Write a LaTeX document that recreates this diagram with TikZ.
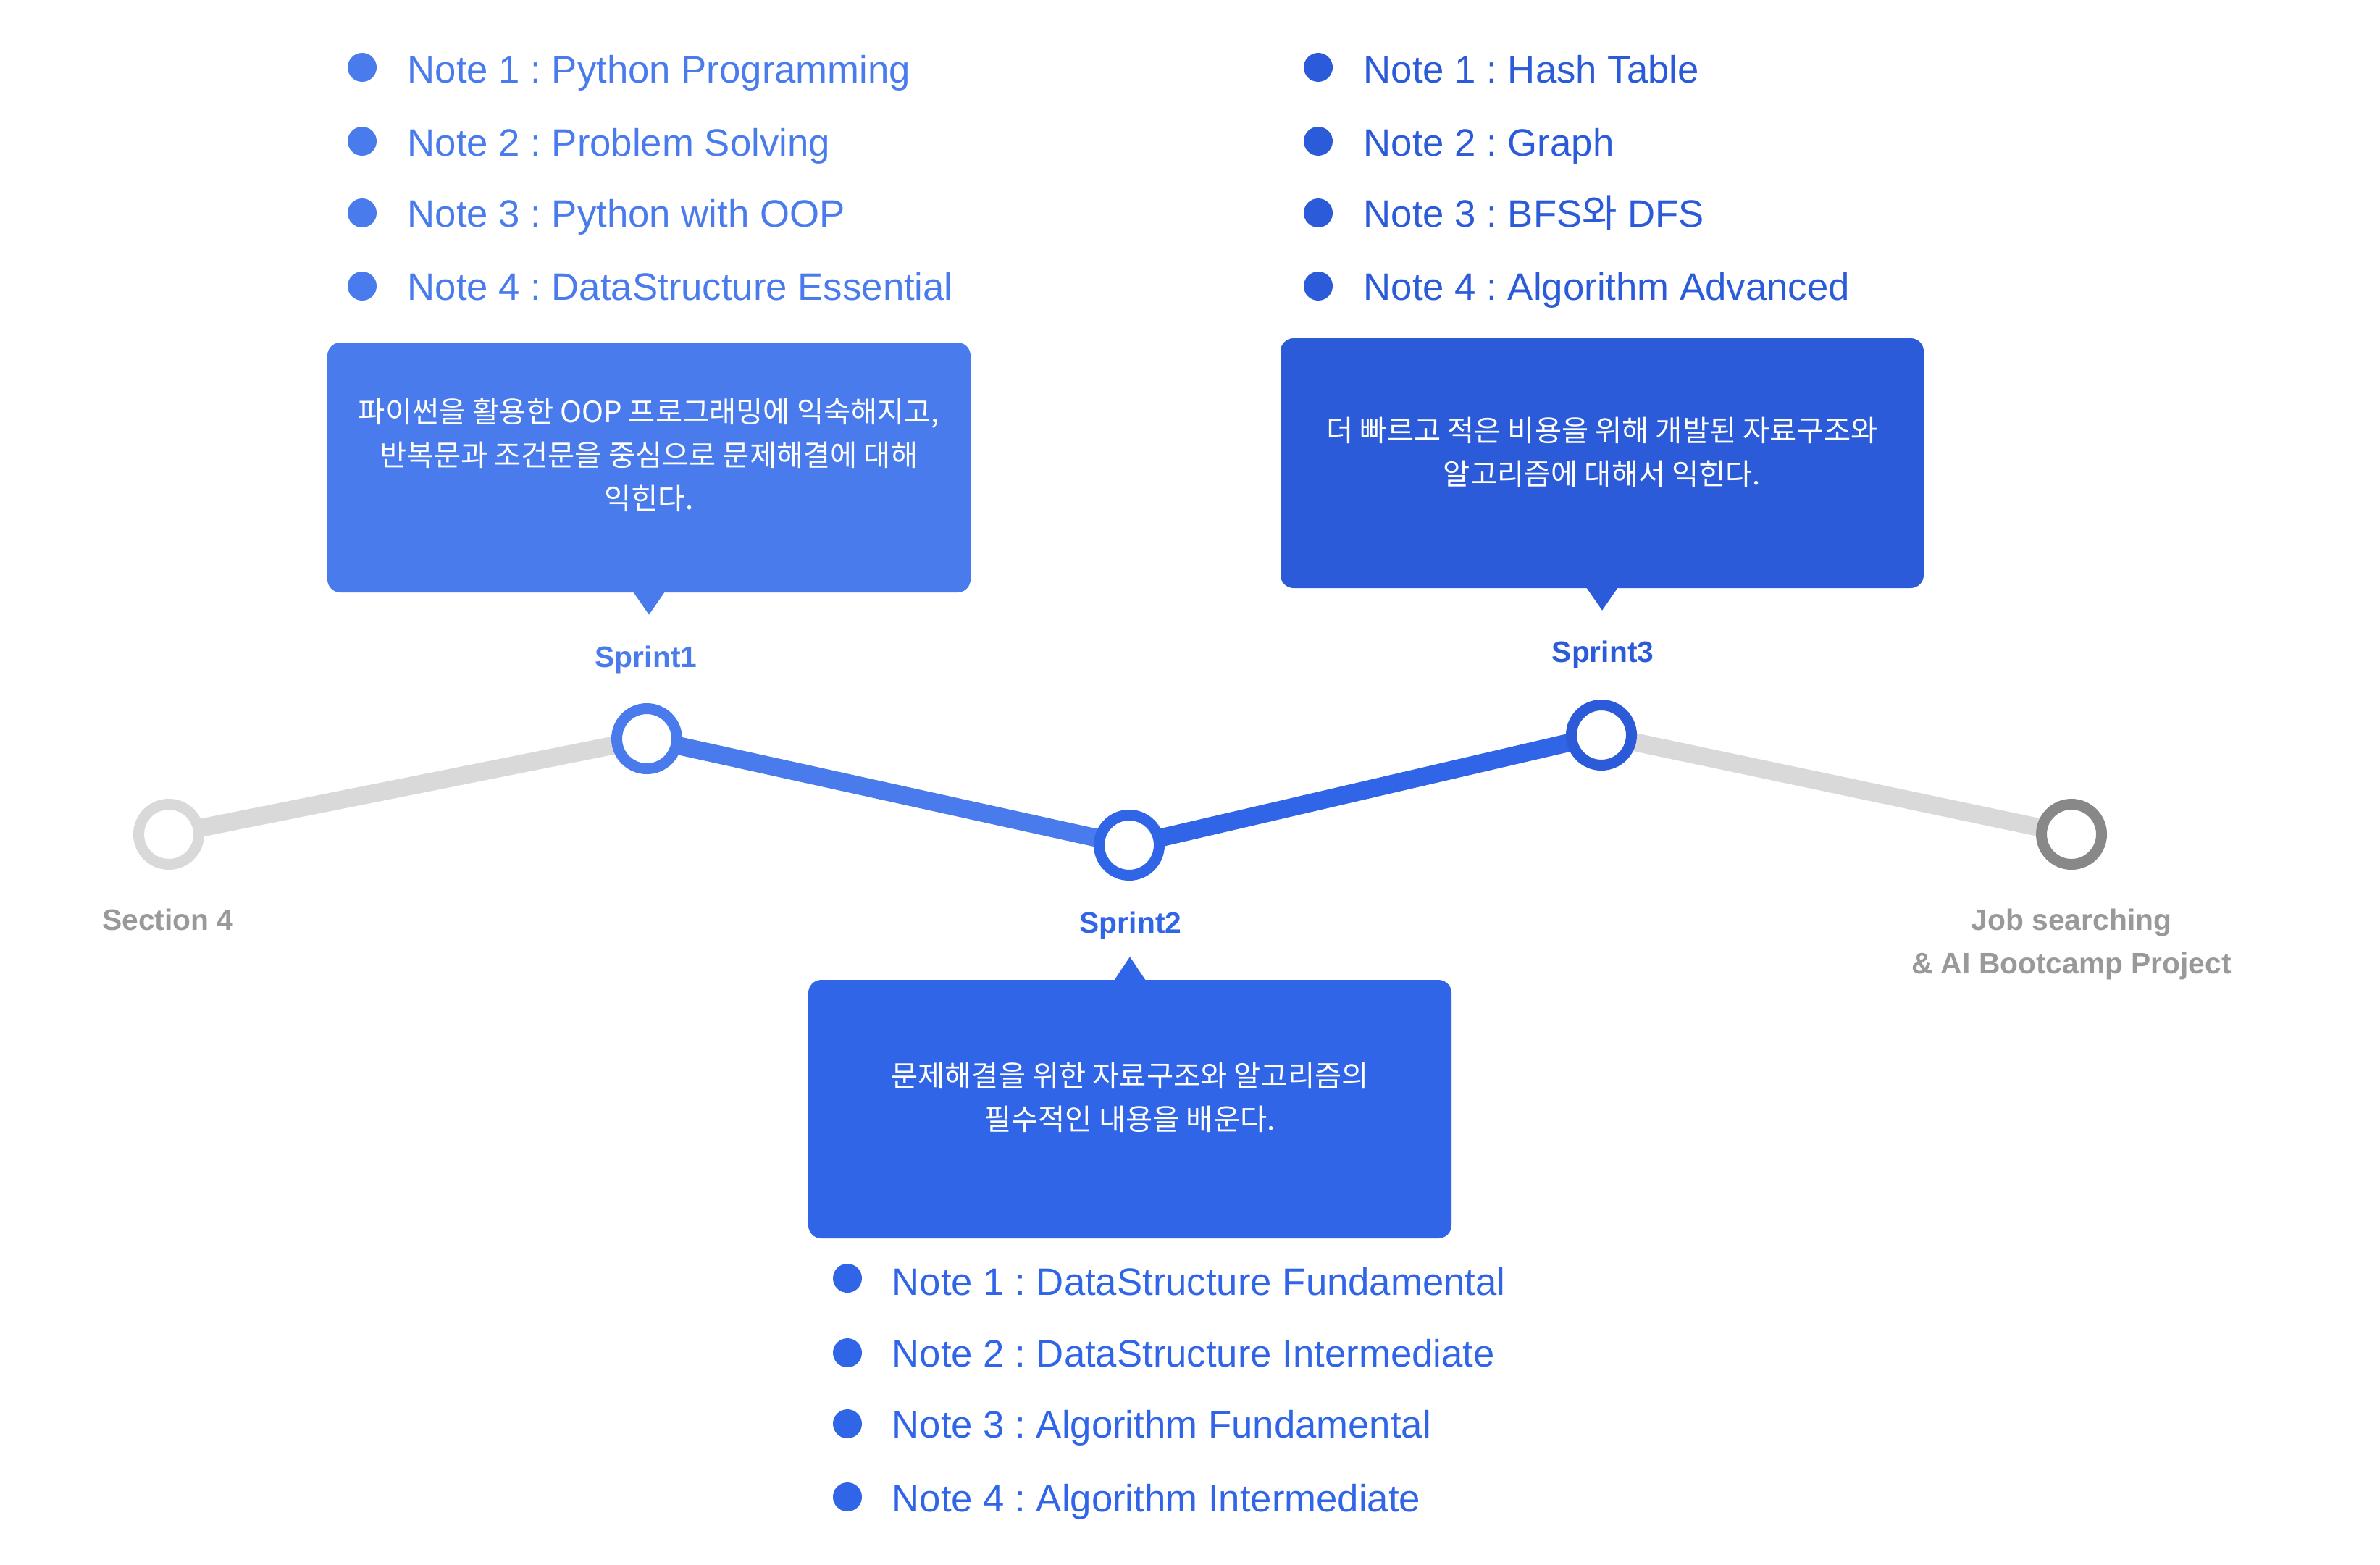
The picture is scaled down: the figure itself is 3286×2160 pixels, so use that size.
\documentclass[tikz,border=0pt]{standalone}
\usepackage{fontspec}
\setmainfont{Liberation Sans}
\newfontfamily\kr{Noto Sans CJK KR}
\usetikzlibrary{backgrounds}

\definecolor{blueA}{HTML}{4A7BEC}
\definecolor{blueB}{HTML}{3165E8}
\definecolor{blueC}{HTML}{2C5BD9}
\definecolor{trackgrey}{HTML}{D9D9D9}
\definecolor{endgrey}{HTML}{888888}
\definecolor{labelgrey}{HTML}{999999}

\tikzset{
  stopring/.style={circle, draw=#1, line width=1.5mm, fill=white,
    minimum size=8.3mm, inner sep=0pt},
  trackline/.style={line width=2.5mm, draw=#1},
  calloutbox/.style={rectangle, rounded corners=1.8mm, fill=#1,
    minimum width=88.8mm, inner sep=0pt},
  calltext/.style={text=white, font=\kr\fontsize{11.5pt}{17.1pt}\selectfont,
    align=center, inner sep=0pt},
  bulletdot/.style={circle, fill=#1, minimum size=4mm, inner sep=0pt},
  notetext/.style={text=#1, font=\fontsize{15pt}{18pt}\selectfont,
    anchor=base west, inner sep=0pt},
  stagelabel/.style={text=#1, font=\bfseries\fontsize{11.6pt}{17.1pt}\selectfont,
    inner sep=0pt},
}

\begin{document}
\frenchspacing
\begin{tikzpicture}[x=0.1mm, y=-0.1mm]
\useasboundingbox (0,0) rectangle (3286,2160);

% stops on the timeline
\node[stopring=trackgrey] (s4)  at (233,1152) {};
\node[stopring=blueA]     (sp1) at (893,1020) {};
\node[stopring=blueB]     (sp2) at (1559,1167) {};
\node[stopring=blueC]     (sp3) at (2211,1015) {};
\node[stopring=endgrey]   (job) at (2860,1152) {};

% page and track segments, under the rings
\begin{pgfonlayer}{background}
  \fill[white] (0,0) rectangle (3286,2160);
  \draw[trackline=trackgrey] (s4.center)  -- (sp1.center);
  \draw[trackline=blueA]     (sp1.center) -- (sp2.center);
  \draw[trackline=blueB]     (sp2.center) -- (sp3.center);
  \draw[trackline=trackgrey] (sp3.center) -- (job.center);
\end{pgfonlayer}

% stage labels
\node[stagelabel=labelgrey, anchor=base] (s4lab)  at (232,1284) {Section 4};
\node[stagelabel=blueA, anchor=base]     (sp1lab) at (892,921)  {Sprint1};
\node[stagelabel=blueB, anchor=base]     (sp2lab) at (1561,1288) {Sprint2};
\node[stagelabel=blueC, anchor=base]     (sp3lab) at (2213,914)  {Sprint3};
\node[stagelabel=labelgrey, anchor=north, align=center] (joblab) at (2860,1254)
  {Job searching\\\& AI Bootcamp Project};

% callout for Sprint1
\node[calloutbox=blueA, minimum height=34.5mm] (b1) at (896,645.5) {};
\fill[blueA] ([xshift=-2.2mm,yshift=0.5pt]b1.south) -- ([yshift=-3mm]b1.south)
  -- ([xshift=2.2mm,yshift=0.5pt]b1.south) -- cycle;
\node[calltext] (t1) at ([yshift=1.7mm]b1.center)
  {파이썬을 활용한 OOP 프로그래밍에 익숙해지고,\\반복문과 조건문을 중심으로 문제해결에 대해\\익힌다.};

% callout for Sprint3
\node[calloutbox=blueC, minimum height=34.5mm] (b3) at (2212,639.5) {};
\fill[blueC] ([xshift=-2.2mm,yshift=0.5pt]b3.south) -- ([yshift=-3mm]b3.south)
  -- ([xshift=2.2mm,yshift=0.5pt]b3.south) -- cycle;
\node[calltext] (t3) at ([yshift=1.5mm]b3.center)
  {더 빠르고 적은 비용을 위해 개발된 자료구조와\\알고리즘에 대해서 익힌다.};

% callout for Sprint2
\node[calloutbox=blueB, minimum height=35.7mm] (b2) at (1560,1531.5) {};
\fill[blueB] ([xshift=-2.2mm,yshift=-0.5pt]b2.north) -- ([yshift=3.1mm]b2.north)
  -- ([xshift=2.2mm,yshift=-0.5pt]b2.north) -- cycle;
\node[calltext] (t2) at ([yshift=1.65mm]b2.center)
  {문제해결을 위한 자료구조와 알고리즘의\\필수적인 내용을 배운다.};

% Sprint1 notes
\foreach \i/\by/\ty/\txt in {
    1/93/114/{Note 1 : Python Programming},
    2/195/215/{Note 2 : Problem Solving},
    3/294/313/{Note 3 : Python with OOP},
    4/395/414/{Note 4 : DataStructure Essential}} {
  \node[bulletdot=blueA] (na\i) at (500,\by) {};
  \node[notetext=blueA] (nat\i) at (562,\ty) {\txt};
}

% Sprint3 notes
\foreach \i/\by/\ty/\txt in {
    1/93/114/{Note 1 : Hash Table},
    2/195/215/{Note 2 : Graph},
    3/294/313/{Note 3 : BFS{\kr 와} DFS},
    4/395/414/{Note 4 : Algorithm Advanced}} {
  \node[bulletdot=blueC] (nc\i) at (1820,\by) {};
  \node[notetext=blueC] (nct\i) at (1882,\ty) {\txt};
}

% Sprint2 notes
\foreach \i/\by/\ty/\txt in {
    1/1765/1788/{Note 1 : DataStructure Fundamental},
    2/1868/1887/{Note 2 : DataStructure Intermediate},
    3/1966/1985/{Note 3 : Algorithm Fundamental},
    4/2067/2087/{Note 4 : Algorithm Intermediate}} {
  \node[bulletdot=blueB] (nb\i) at (1170,\by) {};
  \node[notetext=blueB] (nbt\i) at (1231,\ty) {\txt};
}
\end{tikzpicture}
\end{document}
